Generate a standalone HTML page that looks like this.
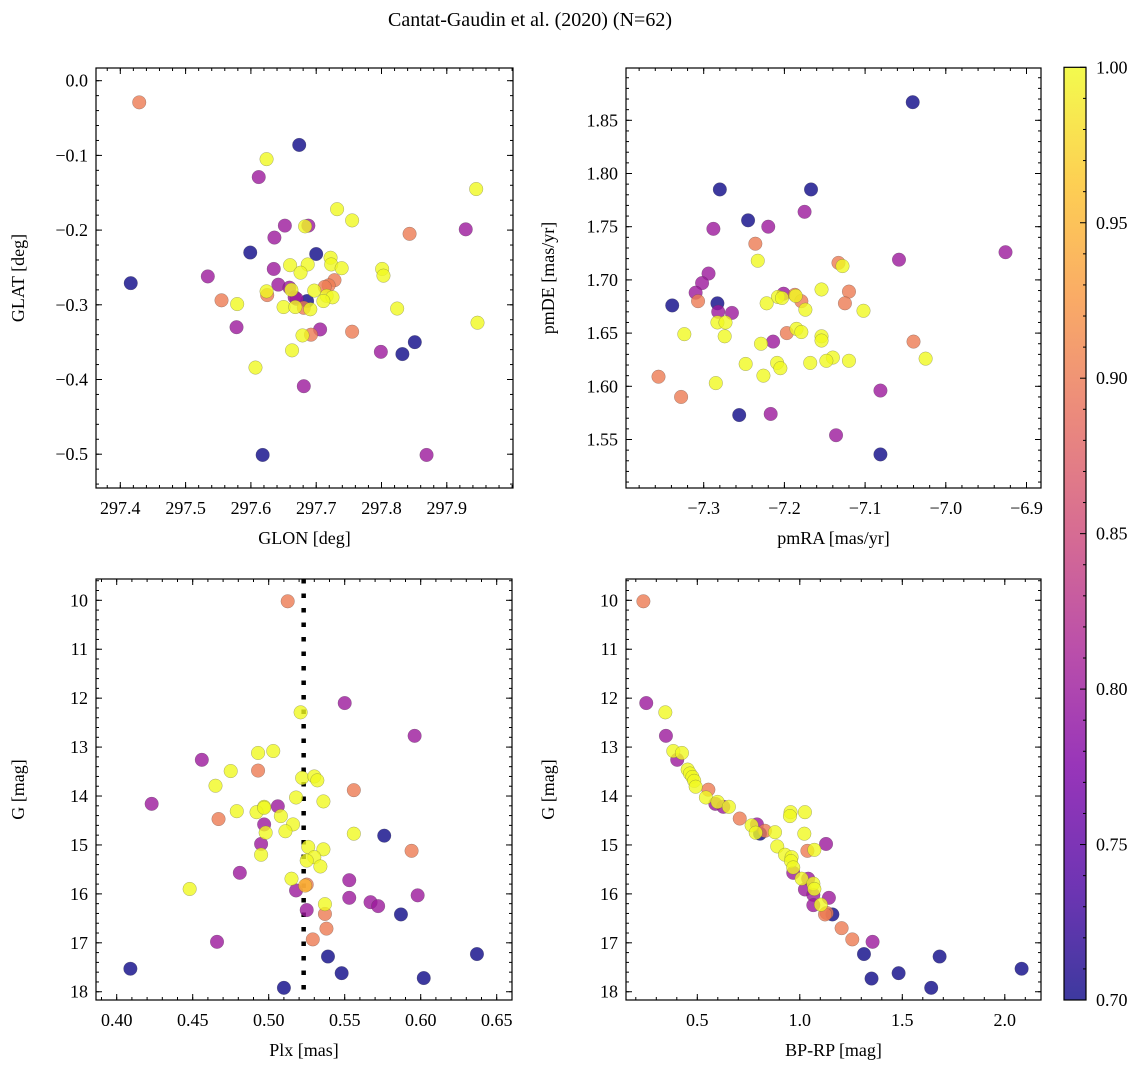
<!DOCTYPE html>
<html><head><meta charset="utf-8"><style>
html,body{margin:0;padding:0;background:#fff;}
svg{display:block;}
svg text{font-family:"Liberation Serif",serif;}
</style></head><body>
<svg id="fig" width="1148" height="1067" viewBox="0 0 1148 1067" xmlns="http://www.w3.org/2000/svg">
<text x="530" y="26" text-anchor="middle" font-size="20">Cantat-Gaudin et al. (2020) (N=62)</text>
<defs>
<linearGradient id="plasma" x1="0" y1="1" x2="0" y2="0">
<stop offset="0" stop-color="#0d0887"/><stop offset="0.125" stop-color="#4c02a1"/><stop offset="0.25" stop-color="#7e03a8"/><stop offset="0.375" stop-color="#a92395"/><stop offset="0.5" stop-color="#cc4778"/><stop offset="0.625" stop-color="#e66c5c"/><stop offset="0.75" stop-color="#f89540"/><stop offset="0.875" stop-color="#fdc328"/><stop offset="1" stop-color="#f0f921"/>
</linearGradient>
</defs>
</svg>
<script>
// ---- data: top-left (GLON vs GLAT)
const glon=[297.429,297.674,297.624,297.612,297.945,297.732,297.755,297.652,297.688,297.683,297.843,297.929,297.636,297.599,297.700,297.722,297.660,297.687,297.723,297.739,297.801,297.803,297.676,297.635,297.534,297.416,297.728,297.719,297.642,297.659,297.662,297.624,297.625,297.697,297.716,297.725,297.711,297.667,297.686,297.555,297.579,297.650,297.668,297.681,297.691,297.824,297.947,297.578,297.706,297.692,297.679,297.755,297.851,297.663,297.799,297.832,297.607,297.681,297.618,297.869,297.670,297.713];
const glat=[-0.029,-0.086,-0.105,-0.129,-0.145,-0.172,-0.187,-0.194,-0.194,-0.195,-0.205,-0.199,-0.210,-0.230,-0.232,-0.237,-0.247,-0.246,-0.246,-0.251,-0.252,-0.261,-0.257,-0.252,-0.262,-0.271,-0.267,-0.274,-0.273,-0.277,-0.280,-0.282,-0.287,-0.281,-0.288,-0.290,-0.295,-0.290,-0.295,-0.294,-0.299,-0.303,-0.303,-0.304,-0.306,-0.305,-0.324,-0.330,-0.333,-0.340,-0.341,-0.336,-0.350,-0.361,-0.363,-0.366,-0.384,-0.409,-0.501,-0.501,-0.292,-0.276];
const probTL=[0.9,0.7,1.0,0.8,1.0,1.0,1.0,0.8,0.8,1.0,0.9,0.8,0.8,0.7,0.7,1.0,1.0,1.0,1.0,1.0,1.0,1.0,1.0,0.8,0.8,0.7,0.9,0.9,0.8,0.8,1.0,1.0,0.9,1.0,1.0,1.0,1.0,0.8,0.7,0.9,1.0,1.0,1.0,0.9,1.0,1.0,1.0,0.8,0.8,0.9,1.0,0.9,0.7,1.0,0.8,0.7,1.0,0.8,0.7,0.8,0.8,0.9];
// ---- data: top-right (pmRA vs pmDE)
const pmra=[-7.041,-7.280,-7.167,-7.175,-7.245,-7.220,-7.288,-7.236,-6.926,-7.058,-7.233,-7.133,-7.128,-7.294,-7.302,-7.310,-7.307,-7.339,-7.283,-7.154,-7.120,-7.125,-7.102,-7.201,-7.208,-7.203,-7.187,-7.186,-7.179,-7.174,-7.222,-7.282,-7.265,-7.283,-7.273,-7.274,-7.324,-7.197,-7.185,-7.179,-7.154,-7.154,-7.229,-7.214,-7.040,-7.025,-7.140,-7.148,-7.120,-7.168,-7.209,-7.205,-7.248,-7.226,-7.356,-7.285,-7.328,-7.256,-7.217,-7.081,-7.136,-7.081];
const pmde=[1.867,1.785,1.785,1.764,1.756,1.750,1.748,1.734,1.726,1.719,1.718,1.716,1.713,1.706,1.697,1.688,1.680,1.676,1.678,1.691,1.689,1.678,1.671,1.687,1.684,1.683,1.686,1.685,1.680,1.672,1.678,1.670,1.669,1.660,1.660,1.647,1.649,1.650,1.654,1.651,1.647,1.643,1.640,1.642,1.642,1.626,1.627,1.624,1.624,1.622,1.622,1.617,1.621,1.610,1.609,1.603,1.590,1.573,1.574,1.596,1.554,1.536];
const probTR=[0.7,0.7,0.7,0.8,0.7,0.8,0.8,0.9,0.8,0.8,1.0,0.9,1.0,0.8,0.8,0.8,0.9,0.7,0.7,1.0,0.9,0.9,1.0,0.8,1.0,1.0,0.9,1.0,0.9,1.0,1.0,0.8,0.8,1.0,1.0,1.0,1.0,0.9,1.0,1.0,1.0,1.0,1.0,0.8,0.9,1.0,1.0,1.0,1.0,1.0,1.0,1.0,1.0,1.0,0.9,1.0,0.9,0.7,0.8,0.8,0.8,0.7];
// ---- data: bottom-left (Plx vs G)
const plx=[0.5125,0.550,0.521,0.596,0.493,0.503,0.456,0.493,0.475,0.522,0.530,0.532,0.465,0.556,0.518,0.536,0.423,0.506,0.497,0.479,0.492,0.508,0.467,0.516,0.497,0.498,0.511,0.556,0.576,0.594,0.495,0.526,0.536,0.530,0.495,0.525,0.534,0.481,0.448,0.515,0.553,0.518,0.525,0.524,0.598,0.553,0.567,0.572,0.537,0.525,0.537,0.587,0.538,0.466,0.529,0.539,0.637,0.409,0.548,0.602,0.510,0.497];
const gBL=[10.02,12.10,12.29,12.77,13.12,13.08,13.26,13.48,13.49,13.63,13.60,13.68,13.79,13.88,14.03,14.11,14.16,14.21,14.22,14.31,14.33,14.41,14.47,14.58,14.58,14.75,14.72,14.77,14.81,15.12,14.98,15.04,15.09,15.25,15.20,15.32,15.44,15.57,15.90,15.69,15.72,15.93,15.81,15.83,16.03,16.08,16.17,16.25,16.21,16.33,16.41,16.42,16.71,16.98,16.93,17.28,17.23,17.53,17.62,17.72,17.92,14.24];
const probBL=[0.9,0.8,1.0,0.8,1.0,1.0,0.8,0.9,1.0,1.0,1.0,1.0,1.0,0.9,1.0,1.0,0.8,0.8,1.0,1.0,1.0,1.0,0.9,1.0,0.8,1.0,1.0,1.0,0.7,0.9,0.8,1.0,1.0,1.0,1.0,1.0,1.0,0.8,1.0,1.0,0.8,0.8,0.9,0.95,0.8,0.8,0.8,0.8,1.0,0.8,0.9,0.7,0.9,0.8,0.9,0.7,0.7,0.7,0.7,0.7,0.7,1.0];
// ---- data: bottom-right (BP-RP vs G)
const bprp=[0.237,0.251,0.344,0.347,0.383,0.425,0.402,0.453,0.464,0.554,0.476,0.485,0.492,0.542,0.588,0.599,0.627,0.654,0.707,0.791,0.765,0.806,0.785,0.830,0.879,0.890,0.955,0.952,1.025,1.022,1.128,1.037,1.071,0.928,0.960,0.957,0.968,0.968,1.009,1.041,1.025,1.066,1.071,1.066,1.142,1.066,1.103,1.131,1.159,1.123,1.204,1.256,1.355,1.313,1.682,2.082,1.350,1.482,1.641];
const gBR=[10.02,12.10,12.29,12.77,13.08,13.12,13.26,13.46,13.54,13.87,13.61,13.69,13.81,14.03,14.16,14.12,14.22,14.22,14.46,14.58,14.60,14.77,14.75,14.71,14.74,15.03,14.33,14.41,14.33,14.77,14.98,15.12,15.10,15.20,15.25,15.33,15.46,15.57,15.69,15.69,15.91,15.79,15.90,16.02,16.08,16.23,16.22,16.39,16.42,16.42,16.70,16.93,16.98,17.23,17.28,17.53,17.73,17.62,17.92];
const probBR=[0.9,0.8,1.0,0.8,1.0,1.0,0.8,1.0,1.0,0.9,1.0,1.0,1.0,1.0,0.8,1.0,0.8,1.0,0.9,0.8,1.0,0.7,1.0,0.9,1.0,1.0,1.0,1.0,1.0,1.0,0.8,0.9,1.0,1.0,1.0,1.0,1.0,0.8,1.0,0.8,0.8,1.0,1.0,0.8,0.8,0.8,1.0,0.9,0.7,0.9,0.9,0.9,0.8,0.7,0.7,0.7,0.7,0.7,0.7];
// ---- tick labels
const ticksGLON=[297.4,297.5,297.6,297.7,297.8,297.9];
const ticksGLAT=[0.0,-0.1,-0.2,-0.3,-0.4,-0.5];
const ticksPMRA=[-7.3,-7.2,-7.1,-7.0,-6.9];
const ticksPMDE=[1.55,1.60,1.65,1.70,1.75,1.80,1.85];
const ticksPLX=[0.40,0.45,0.50,0.55,0.60,0.65];
const ticksG=[10,11,12,13,14,15,16,17,18];
const ticksBPRP=[0.5,1.0,1.5,2.0];
const ticksCB=[0.70,0.75,0.80,0.85,0.90,0.95,1.00];
const plxRef=0.523;

const NS='http://www.w3.org/2000/svg';
const svg=document.getElementById('fig');
const FS=18;
function mk(tag,attrs,parent){const e=document.createElementNS(NS,tag);for(const k in attrs)e.setAttribute(k,attrs[k]);(parent||svg).appendChild(e);return e;}
const stops=[[13,8,135],[76,2,161],[126,3,168],[169,35,149],[204,71,120],[230,108,92],[248,149,64],[253,195,40],[240,249,33]];
function plasma(p){let t=Math.max(0,Math.min(1,(p-0.7)/0.3))*8;const i=Math.min(7,Math.floor(t));const f=t-i;const a=stops[i],b=stops[i+1];return 'rgb('+a.map((v,k)=>Math.round(v+(b[k]-v)*f)).join(',')+')';}
function fmt(v,d){return (v<0?'\u2212':'')+Math.abs(v).toFixed(d);}

function panel(cfg){
  const g=mk('g',{});
  
  
  const {x0,x1,y0,y1}=cfg;
  const sx=v=>cfg.xa+(v-cfg.xv)*cfg.xs;
  const sy=v=>cfg.ya+(v-cfg.yv)*cfg.ys;
  const clip='clip-'+cfg.name;
  const cp=mk('clipPath',{id:clip},g);mk('rect',{x:x0,y:y0,width:x1-x0,height:y1-y0},cp);
  const pts=mk('g',{'clip-path':'url(#'+clip+')'},g);
  if(cfg.vline!==undefined){
    const l=mk('line',{x1:sx(cfg.vline),x2:sx(cfg.vline),y1:y0,y2:y1,stroke:'#000','stroke-width':4.5,'stroke-dasharray':'4.5 10'},pts);
    
    
  }
  const idx=cfg.xs_d.map((_,i)=>i).sort((a,b)=>cfg.p[a]-cfg.p[b]);
  idx.forEach(i=>{
    const c=mk('circle',{cx:sx(cfg.xs_d[i]),cy:sy(cfg.ys_d[i]),r:6.8,fill:plasma(cfg.p[i]),'fill-opacity':0.8,stroke:'#444','stroke-opacity':0.45,'stroke-width':0.5},pts);
    
    
  });
  const tk=mk('g',{stroke:'#000','stroke-width':1},g);
  const addT=(axis,v,len)=>{
    if(axis==='x'){const x=sx(v);if(x<x0+0.5||x>x1-0.5)return;mk('line',{x1:x,x2:x,y1:y1,y2:y1-len},tk);mk('line',{x1:x,x2:x,y1:y0,y2:y0+len},tk);}
    else{const y=sy(v);if(y<y0+0.5||y>y1-0.5)return;mk('line',{x1:x0,x2:x0+len,y1:y,y2:y},tk);mk('line',{x1:x1,x2:x1-len,y1:y,y2:y},tk);}
  };
  const xmin=Math.min((x0-cfg.xa)/cfg.xs+cfg.xv,(x1-cfg.xa)/cfg.xs+cfg.xv),xmax=Math.max((x0-cfg.xa)/cfg.xs+cfg.xv,(x1-cfg.xa)/cfg.xs+cfg.xv);
  for(let k=Math.ceil(xmin/cfg.xm);k*cfg.xm<=xmax;k++)addT('x',k*cfg.xm,3);
  const ymin=Math.min((y0-cfg.ya)/cfg.ys+cfg.yv,(y1-cfg.ya)/cfg.ys+cfg.yv),ymax=Math.max((y0-cfg.ya)/cfg.ys+cfg.yv,(y1-cfg.ya)/cfg.ys+cfg.yv);
  for(let k=Math.ceil(ymin/cfg.ym);k*cfg.ym<=ymax;k++)addT('y',k*cfg.ym,3);
  cfg.xt.forEach(v=>{addT('x',v,6);const t=mk('text',{x:sx(v),y:y1+26,'text-anchor':'middle','font-size':FS},g);t.textContent=fmt(v,cfg.xd);
    
    });
  cfg.yt.forEach(v=>{addT('y',v,6);const t=mk('text',{x:x0-8,y:sy(v)+6,'text-anchor':'end','font-size':FS},g);t.textContent=fmt(v,cfg.yd);
    
    });
  const fr=mk('rect',{x:x0,y:y0,width:x1-x0,height:y1-y0,fill:'none',stroke:'#000','stroke-width':1.2},g);
  
  
  const xl=mk('text',{x:(x0+x1)/2,y:y1+56,'text-anchor':'middle','font-size':FS},g);xl.textContent=cfg.xlab;
  
  
  const yl=mk('text',{x:0,y:0,'text-anchor':'middle','font-size':FS,transform:'translate('+cfg.ylx+','+((y0+y1)/2)+') rotate(-90)'},g);yl.textContent=cfg.ylab;
  
  
}
panel({name:'sky-position-panel',x0:96,x1:513,y0:68,y1:488,xa:120.3,xv:297.4,xs:653,ya:80.7,yv:0,ys:-747,xm:0.02,ym:0.02,xt:ticksGLON,yt:ticksGLAT,xd:1,yd:1,xs_d:glon,ys_d:glat,p:probTL,xlab:'GLON [deg]',ylab:'GLAT [deg]',ylx:24});
panel({name:'proper-motion-panel',x0:626,x1:1041,y0:68,y1:488,xa:703.7,xv:-7.3,xs:807,ya:120.3,yv:1.85,ys:-1064,xm:0.02,ym:0.01,xt:ticksPMRA,yt:ticksPMDE,xd:1,yd:2,xs_d:pmra,ys_d:pmde,p:probTR,xlab:'pmRA [mas/yr]',ylab:'pmDE [mas/yr]',ylx:554});
panel({name:'parallax-magnitude-panel',x0:96,x1:512,y0:579,y1:1000,xa:116.7,xv:0.40,xs:1520,ya:600.3,yv:10,ys:48.93,xm:0.01,ym:0.2,xt:ticksPLX,yt:ticksG,xd:2,yd:0,xs_d:plx,ys_d:gBL,p:probBL,xlab:'Plx [mas]',ylab:'G [mag]',ylx:24,vline:plxRef});
panel({name:'color-magnitude-panel',x0:626,x1:1041,y0:579,y1:1000,xa:697.3,xv:0.5,xs:205,ya:600.3,yv:10,ys:48.93,xm:0.1,ym:0.2,xt:ticksBPRP,yt:ticksG,xd:1,yd:0,xs_d:bprp,ys_d:gBR,p:probBR,xlab:'BP-RP [mag]',ylab:'G [mag]',ylx:554});
const cb=mk('g',{});


const cy=v=>1000-(v-0.70)/0.30*(1000-67.3);
mk('rect',{x:1064,y:67.3,width:22,height:932.7,fill:'url(#plasma)','fill-opacity':0.8},cb);
for(let k=70;k<=100;k++){const y=cy(k/100);const major=k%5===0;mk('line',{x1:1086,x2:1086-(major?6:3),y1:y,y2:y,stroke:'#000','stroke-width':1},cb);}
ticksCB.forEach(v=>{const t=mk('text',{x:1096,y:cy(v)+6,'font-size':FS},cb);t.textContent=v.toFixed(2);
  
  });
mk('rect',{x:1064,y:67.3,width:22,height:932.7,fill:'none',stroke:'#000','stroke-width':1.2},cb);
</script>
</body></html>
